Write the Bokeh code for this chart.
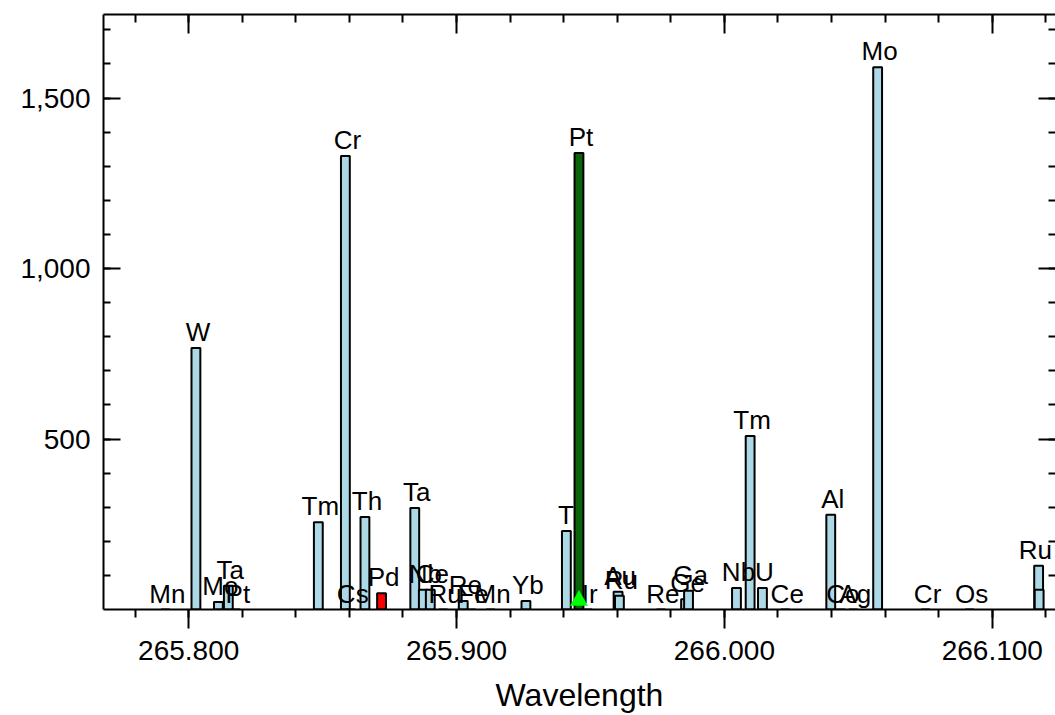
from bokeh.plotting import figure
from bokeh.models import ColumnDataSource, LinearAxis, FixedTicker, NumeralTickFormatter, Range1d
from bokeh.core.properties import value
from bokeh.embed import file_html
from bokeh.resources import INLINE
import numpy as np

# ---- data ----
elements = ["Mn", "W", "Mo", "Ta", "Pt", "Tm", "Cr", "Cs", "Th", "Pd", "Ta", "Nb", "Ce",
            "Ru", "Re", "Fe", "Mn", "Yb", "Ti", "Pt", "Ir", "Au", "Ru", "Re", "Ge", "Ga",
            "Nb", "Tm", "U", "Ce", "Al", "Co", "Ag", "Mo", "Cr", "Os", "Ru", ""]
wavelengths = [265.7913, 265.8027, 265.8111, 265.8148, 265.8176, 265.8484, 265.8585, 265.8605,
               265.8658, 265.8720, 265.8844, 265.8876, 265.8902, 265.8950, 265.9025, 265.9055,
               265.9127, 265.9259, 265.9410, 265.9457, 265.9490, 265.9603, 265.9608, 265.9763,
               265.9855, 265.9866, 266.0045, 266.0096, 266.0142, 266.0227, 266.0397, 266.0435,
               266.0481, 266.0572, 266.0751, 266.0915, 266.1173, 266.1175]
intensities = [0, 767, 22, 70, 0, 256, 1330, 0, 271, 48, 298, 58, 58,
               0, 25, 0, 0, 25, 230, 1339, 0, 52, 40, 0, 30, 55,
               63, 509, 63, 0, 278, 0, 0, 1590, 0, 0, 128, 58]
kinds = ["line"] * len(elements)
kinds[elements.index("Pd")] = "interferer"
kinds[19] = "analyte"   # Pt 265.945 (selected line)

x_major_ticks = [265.8, 265.9, 266.0, 266.1]
y_major_ticks = [500, 1000, 1500]

colors = {"line": "#ADD8E6", "interferer": "#FF0000", "analyte": "#0A640A"}

FONT = "Liberation Sans"
LABEL_PX = 26
X_START, X_END = 265.7682, 266.1236
Y_START, Y_END = 0, 1745
W, H = 1055, 715
B_LEFT, B_TOP, B_BOTTOM, B_RIGHT = 103, 14, 105, 0
frame_w = W - B_LEFT - B_RIGHT
frame_h = H - B_TOP - B_BOTTOM

others = [i for i, k in enumerate(kinds) if k != "analyte"]
sel = [i for i, k in enumerate(kinds) if k == "analyte"]
labelled = [i for i, e in enumerate(elements) if e]

def label_dx(i):
    # keep labels inside the frame: nudge left if the text would run past the right edge
    px = (wavelengths[i] - X_START) / (X_END - X_START) * frame_w
    half = 0.66 * LABEL_PX * len(elements[i]) / 2
    return min(2.0, frame_w - 3 - (px + half))

def src(idx):
    return ColumnDataSource(dict(
        wl=[wavelengths[i] for i in idx],
        val=[intensities[i] for i in idx],
        el=[elements[i] for i in idx],
        color=[colors[kinds[i]] for i in idx],
        dx=[label_dx(i) for i in idx],
    ))

src_other = src(others)
src_sel = src(sel)
src_lab = src(labelled)

p = figure(width=W, height=H, output_backend="svg", toolbar_location=None,
           x_range=Range1d(X_START, X_END), y_range=Range1d(Y_START, Y_END),
           min_border_left=B_LEFT, min_border_top=B_TOP,
           min_border_bottom=B_BOTTOM, min_border_right=B_RIGHT)
p.background_fill_color = "white"
p.border_fill_color = "white"
p.outline_line_color = None
p.grid.visible = False

bar_w = 0.0033
p.vbar(x="wl", top="val", bottom=0, width=bar_w, source=src_other,
       fill_color="color", line_color="black", line_width=2)
p.text(x="wl", y="val", text="el", source=src_lab, text_font=value(FONT),
       text_font_size=f"{LABEL_PX}px", text_align="center", text_baseline="alphabetic",
       x_offset="dx", y_offset=-16, text_color="black")
p.vbar(x="wl", top="val", bottom=0, width=bar_w, source=src_sel,
       fill_color="color", line_color="black", line_width=2)

# selected-line marker sitting on the baseline
tri_size = 18
tri_y = (tri_size / 2) * (Y_END - Y_START) / frame_h
p.scatter(x=[wavelengths[i] for i in sel], y=[tri_y] * len(sel), marker="triangle",
          size=tri_size, fill_color="#00FF00", line_color=None)

x_minor = [round(v, 3) for v in np.arange(265.76, 266.14, 0.02)]
y_minor = list(range(100, 1800, 100))

xt = FixedTicker(ticks=x_major_ticks, minor_ticks=x_minor)
yt = FixedTicker(ticks=y_major_ticks, minor_ticks=y_minor)

def style(ax):
    ax.axis_line_color = "black"
    ax.axis_line_width = 2
    ax.major_tick_line_color = "black"
    ax.major_tick_line_width = 2
    ax.minor_tick_line_color = "black"
    ax.minor_tick_line_width = 2
    ax.major_label_text_font = FONT
    ax.major_label_text_color = "black"

xa = p.xaxis[0]
style(xa)
xa.ticker = xt
xa.formatter = NumeralTickFormatter(format="0.000")
xa.major_tick_out = 19
xa.major_tick_in = 0
xa.minor_tick_out = 8
xa.minor_tick_in = 0
xa.major_label_text_font_size = "28px"
xa.major_label_standoff = 12
xa.axis_label = "Wavelength"
xa.axis_label_text_font = FONT
xa.axis_label_text_font_size = "32px"
xa.axis_label_text_font_style = "normal"
xa.axis_label_text_color = "black"
xa.axis_label_standoff = 14

ya = p.yaxis[0]
style(ya)
ya.ticker = yt
ya.formatter = NumeralTickFormatter(format="0,0")
ya.major_tick_out = 0
ya.major_tick_in = 17
ya.minor_tick_out = 0
ya.minor_tick_in = 7
ya.major_label_text_font_size = "28px"
ya.major_label_standoff = 13

def no_labels(ax):
    ax.major_label_text_color = None
    ax.major_label_text_font_size = "1px"
    ax.major_label_standoff = 0

top = LinearAxis(ticker=xt)
style(top)
top.major_tick_out = 0
top.major_tick_in = 19
top.minor_tick_out = 0
top.minor_tick_in = 8
no_labels(top)
p.add_layout(top, "above")

right = LinearAxis(ticker=yt)
style(right)
right.axis_line_color = None
right.major_tick_out = 0
right.major_tick_in = 17
right.minor_tick_out = 0
right.minor_tick_in = 7
no_labels(right)
p.add_layout(right, "right")

open("out.html", "w").write(file_html(p, INLINE))
